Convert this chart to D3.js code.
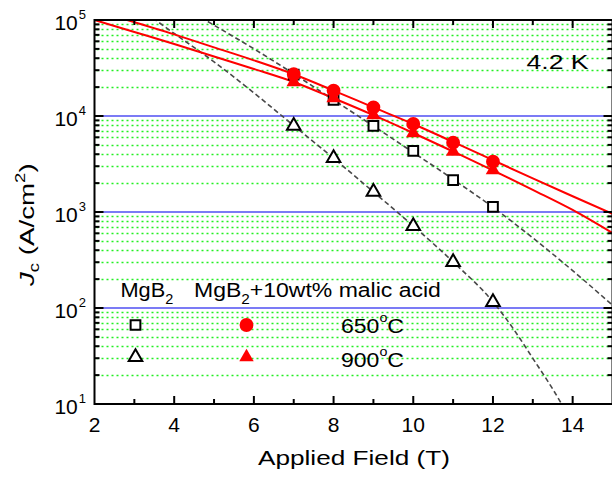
<!DOCTYPE html>
<html><head><meta charset="utf-8">
<script src="https://cdn.jsdelivr.net/npm/d3@7"></script>
<style>
body{margin:0;background:#fff}
svg{display:block}
text{font-family:"Liberation Sans",Arial,Helvetica,sans-serif;fill:#000}
</style>
</head><body>
<svg id="c" width="612" height="477"></svg>
<script>
// ---------- data ----------
const fieldT = [7, 8, 9, 10, 11, 12];
const jcMgB2_650  = [27000, 14700, 7870, 4320, 2150, 1130];
const jcMgB2_900  = [7900, 3650, 1620, 714, 301, 115];
const jcMalic_650 = [27200, 18400, 12300, 8260, 5270, 3340];
const jcMalic_900 = [22600, 15400, 10200, 6650, 4250, 2740];

// fitted curves
const fitB_malic650 = [2.5, 2.82, 4, 5, 6, 7, 8, 9, 10, 11, 12, 13, 14, 15];
const fitJ_malic650 = [109600, 100000, 70800, 51900, 38000, 27200, 18400, 12300, 8260, 5370, 3470, 2240, 1460, 955];
const fitB_malic900 = [2, 3, 4, 5, 6, 7, 8, 9, 10, 11, 12, 13, 14, 15];
const fitJ_malic900 = [100000, 75000, 56200, 41700, 30900, 22600, 15300, 10200, 6650, 4270, 2720, 1700, 1050, 603];
const fitB_mgb650 = [4.5, 4.78, 6, 7, 8, 9, 10, 11, 12, 13, 14, 15];
const fitJ_mgb650 = [117500, 100000, 50100, 27500, 14700, 7870, 4170, 2190, 1120, 537, 245, 107];
const fitB_mgb900 = [3.3, 3.53, 4, 5, 6, 7, 8, 9, 10, 11, 12, 12.5, 13, 13.5, 14];
const fitJ_mgb900 = [117500, 100000, 72400, 36700, 17400, 7940, 3630, 1620, 716, 302, 116, 61.7, 29.9, 14.3, 6.3];

const xTickValues = [2, 4, 6, 8, 10, 12, 14];
const xTickLabels = ["2", "4", "6", "8", "10", "12", "14"];
const yTickExponents = [1, 2, 3, 4, 5];
const legendTemps = ["650", "900"];

// ---------- scales ----------
const svg = d3.select("#c");
const x = d3.scaleLinear().domain([2, 15]).range([94.5, 612.5]);
const y = d3.scaleLog().domain([10, 1e5]).range([404, 20]);
const X0 = x(2), X1 = x(15), Y0 = y(10), Y1 = y(1e5);

svg.append("defs").append("clipPath").attr("id", "clip")
  .append("rect").attr("x", X0).attr("y", Y1).attr("width", X1 - X0).attr("height", Y0 - Y1);

// ---------- grid ----------
const minorVals = [];
[1, 2, 3, 4].forEach(e => { for (let k = 2; k <= 9; k++) minorVals.push(k * Math.pow(10, e)); });
svg.append("g").selectAll("line").data(minorVals).join("line")
  .attr("x1", X0 + 2).attr("x2", X1)
  .attr("y1", d => Math.round(y(d)) + 0.5).attr("y2", d => Math.round(y(d)) + 0.5)
  .attr("stroke", "#22f022").attr("stroke-width", 1.5).attr("stroke-dasharray", "2 3");
svg.append("g").selectAll("line").data([100, 1000, 10000]).join("line")
  .attr("x1", X0).attr("x2", X1)
  .attr("y1", d => y(d)).attr("y2", d => y(d))
  .attr("stroke", "#7b7bf5").attr("stroke-width", 2);

// ---------- curves ----------
const line = d3.line().x(d => x(d[0])).y(d => y(d[1])).curve(d3.curveMonotoneX);
const curves = svg.append("g").attr("clip-path", "url(#clip)");
function addCurve(B, J, color, w, dash) {
  curves.append("path").attr("d", line(B.map((b, i) => [b, J[i]])))
    .attr("fill", "none").attr("stroke", color).attr("stroke-width", w)
    .attr("stroke-dasharray", dash || null);
}
addCurve(fitB_mgb650, fitJ_mgb650, "#484848", 1.6, "5 3");
addCurve(fitB_mgb900, fitJ_mgb900, "#484848", 1.6, "5 3");
addCurve(fitB_malic650, fitJ_malic650, "#ff0000", 2);
addCurve(fitB_malic900, fitJ_malic900, "#ff0000", 2);

// ---------- markers ----------
const sym = {
  sq: d3.symbol().type(d3.symbolSquare).size(95)(),
  tri: d3.symbol().type(d3.symbolTriangle).size(80)(),
  circ: d3.symbol().type(d3.symbolCircle).size(150)(),
  triF: d3.symbol().type(d3.symbolTriangle).size(90)()
};
const mk = svg.append("g");
function addMarkers(J, path, fill, stroke) {
  mk.append("g").selectAll("path").data(fieldT.map((b, i) => [b, J[i]])).join("path")
    .attr("transform", d => `translate(${x(d[0])},${y(d[1])})`)
    .attr("d", path).attr("fill", fill).attr("stroke", stroke)
    .attr("stroke-width", stroke === "none" ? 0 : 2);
}
addMarkers(jcMgB2_650, sym.sq, "#fff", "#000");
addMarkers(jcMgB2_900, sym.tri, "#fff", "#000");
addMarkers(jcMalic_900, sym.triF, "#ff0000", "none");
addMarkers(jcMalic_650, sym.circ, "#ff0000", "none");

// ---------- frame and ticks ----------
const ax = svg.append("g").attr("stroke", "#000").attr("stroke-width", 2);
ax.append("rect").attr("x", X0).attr("y", Y1).attr("width", X1 - X0).attr("height", Y0 - Y1).attr("fill", "none");
const xInts = d3.range(3, 15);
xInts.forEach(b => {
  const L = (b % 2 === 0) ? 8 : 5;
  ax.append("line").attr("x1", x(b)).attr("x2", x(b)).attr("y1", Y0).attr("y2", Y0 - L);
  ax.append("line").attr("x1", x(b)).attr("x2", x(b)).attr("y1", Y1).attr("y2", Y1 + L);
});
const yTickVals = [];
yTickExponents.forEach(e => yTickVals.push([Math.pow(10, e), 9]));
minorVals.forEach(v => yTickVals.push([v, 5]));
yTickVals.forEach(([v, L]) => {
  ax.append("line").attr("x1", X0).attr("x2", X0 + L).attr("y1", y(v)).attr("y2", y(v));
  ax.append("line").attr("x1", X1).attr("x2", X1 - L).attr("y1", y(v)).attr("y2", y(v));
});

// ---------- tick labels ----------
svg.append("g").selectAll("text").data(xTickValues).join("text")
  .attr("x", d => x(d)).attr("y", 432).attr("text-anchor", "middle")
  .attr("font-size", 21).text((d, i) => xTickLabels[i]);
const yl = svg.append("g").selectAll("text").data(yTickExponents).join("text")
  .attr("x", 86).attr("y", d => y(Math.pow(10, d)) + 10).attr("text-anchor", "end")
  .attr("font-size", 21);
yl.append("tspan").text("10");
yl.append("tspan").attr("font-size", 13).attr("dy", -11).attr("dx", 1).text(d => d);

// ---------- helper to fit text width ----------
function fit(t, x0, y0, width, rot) {
  const bb = t.node().getBBox();
  const s = width / bb.width;
  t.attr("transform", `translate(${x0},${y0})` + (rot ? ` rotate(${rot})` : "") + ` scale(${s},1)`);
}

// axis titles
const xt = svg.append("text").attr("font-size", 21).attr("x", 0).attr("y", 0).text("Applied Field (T)");
fit(xt, 258, 464.5, 192);

const yt = svg.append("text").attr("font-size", 21).attr("x", 0).attr("y", 0);
yt.append("tspan").attr("font-style", "italic").text("J");
yt.append("tspan").attr("font-size", 14).attr("dy", 5).text("c");
yt.append("tspan").attr("dy", -5).text(" (A/cm");
yt.append("tspan").attr("font-size", 14).attr("dy", -9).text("2");
yt.append("tspan").attr("dy", 9).text(")");
fit(yt, 34, 286, 124, -90);

// temperature label
const tk = svg.append("text").attr("font-size", 21).attr("x", 0).attr("y", 0).text("4.2 K");
fit(tk, 526.5, 68.5, 62);

// ---------- legend ----------
const lg1 = svg.append("text").attr("font-size", 21).attr("x", 0).attr("y", 0);
lg1.append("tspan").text("MgB");
lg1.append("tspan").attr("font-size", 14).attr("dy", 7).text("2");
fit(lg1, 120.5, 296.5, 53);

const lg2 = svg.append("text").attr("font-size", 21).attr("x", 0).attr("y", 0);
lg2.append("tspan").text("MgB");
lg2.append("tspan").attr("font-size", 14).attr("dy", 7).text("2");
lg2.append("tspan").attr("dy", -7).text("+10wt% malic acid");
fit(lg2, 194, 296.5, 247);

const legRowsY = [325, 357];
const legSq = [sym.sq, sym.tri];
const legRed = [sym.circ, sym.triF];
legendTemps.forEach((tmp, i) => {
  svg.append("path").attr("d", legSq[i]).attr("transform", `translate(135.5,${legRowsY[i]})`)
    .attr("fill", "#fff").attr("stroke", "#000").attr("stroke-width", 2);
  svg.append("path").attr("d", legRed[i]).attr("transform", `translate(246.5,${legRowsY[i]})`)
    .attr("fill", "#ff0000");
  const t = svg.append("text").attr("font-size", 21).attr("x", 0).attr("y", 0);
  t.append("tspan").text(tmp);
  t.append("tspan").attr("font-size", 13).attr("dy", -11).text("o");
  t.append("tspan").attr("dy", 11).text("C");
  fit(t, 341, i === 0 ? 333 : 366.5, 63);
});
</script>
</body></html>
